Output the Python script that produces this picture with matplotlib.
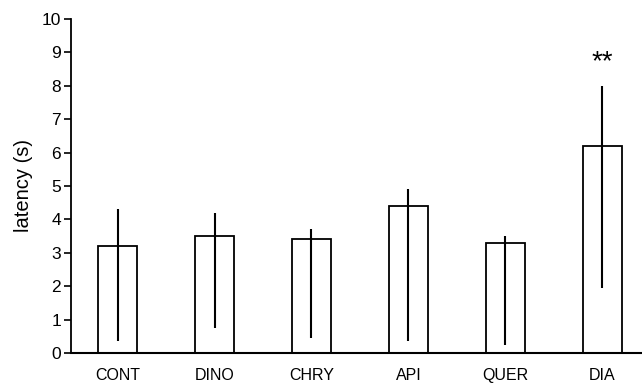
import numpy as np
import matplotlib.pyplot as plt

plt.rcParams['font.family'] = ['Liberation Sans', 'DejaVu Sans']

groups = ['CONT', 'DINO', 'CHRY', 'API', 'QUER', 'DIA']
means = [3.2, 3.5, 3.4, 4.4, 3.3, 6.2]
err_low = [0.35, 0.75, 0.45, 0.35, 0.25, 1.95]
err_high = [4.3, 4.2, 3.7, 4.9, 3.5, 8.0]

x = np.arange(len(groups))

fig = plt.figure(figsize=(6.42, 3.85), dpi=100)
ax = fig.add_axes([0.11, 0.083, 0.89, 0.868])

ax.bar(x, means, width=0.4, color='white', edgecolor='black', linewidth=1.3, zorder=2)
ax.vlines(x, err_low, err_high, color='black', linewidth=1.5, zorder=3)
ax.text(x[-1], 8.7, '**', ha='center', va='center', fontsize=20)

ax.set_xlim(-0.485, 5.41)
ax.set_ylim(0, 10)
ax.set_yticks(range(0, 11))
ax.set_xticks(x)
ax.set_xticklabels(groups, fontsize=11.5)
ax.tick_params(axis='x', length=0, pad=11)
ax.tick_params(axis='y', length=5, width=1.2, labelsize=12.5, pad=2)
ax.set_ylabel('latency (s)', fontsize=14.5, labelpad=6)

ax.spines['top'].set_visible(False)
ax.spines['right'].set_visible(False)
ax.spines['left'].set_linewidth(1.3)
ax.spines['bottom'].set_linewidth(1.5)

fig.savefig('out.png', dpi=100)
